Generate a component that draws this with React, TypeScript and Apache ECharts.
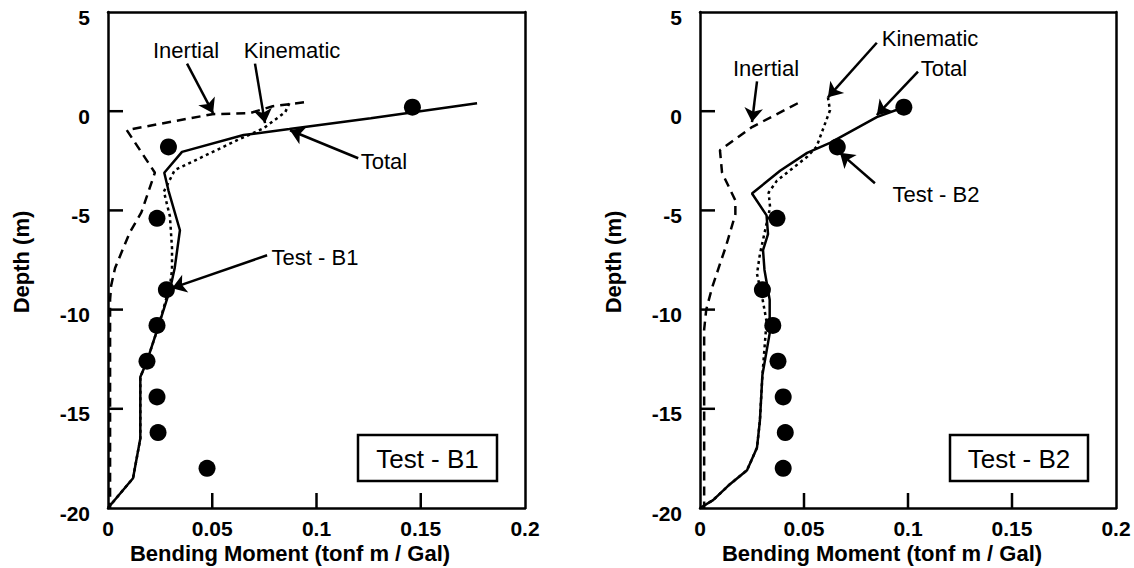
import React, { useEffect, useRef } from "react";
import * as echarts from "echarts";

// Axis ticks
const X_TICKS = [0, 0.05, 0.1, 0.15, 0.2];
const Y_TICKS = [-20, -15, -10, -5, 0, 5];

// ---- Test B1 (left) : [bending moment, depth]
const B1_INERTIAL = [
  [0.094, 0.45], [0.079, 0.25], [0.068, -0.1], [0.05, -0.15], [0.009, -0.95],
  [0.0225, -3.1], [0.016, -5.1], [0.0105, -6.1], [0.0034, -7.9], [0.0015, -8.8],
  [0.001, -9.5], [0.001, -20],
];
const B1_KINEMATIC = [
  [0.087, 0.4], [0.085, -0.05], [0.0745, -0.87], [0.062, -1.46], [0.032, -2.97],
  [0.0268, -4.05], [0.0297, -5.3], [0.0307, -6.9], [0.0307, -8.0], [0.0297, -8.8],
  [0.024, -10.9], [0.0187, -12.6], [0.0155, -13.4], [0.0155, -16.5], [0.012, -18.5], [0, -20],
];
const B1_TOTAL = [
  [0.177, 0.4], [0.126, -0.35], [0.087, -0.9], [0.065, -1.2], [0.0355, -2.05],
  [0.027, -3.1], [0.029, -4.0], [0.0345, -6.0], [0.032, -7.9], [0.0297, -9.0],
  [0.024, -10.9], [0.0187, -12.6], [0.0155, -13.4], [0.0155, -16.5], [0.012, -18.5], [0, -20],
];
const B1_TEST = [
  [0.146, 0.2], [0.029, -1.8], [0.0235, -5.4], [0.028, -9], [0.0235, -10.8],
  [0.0187, -12.6], [0.0235, -14.4], [0.024, -16.2], [0.0475, -18],
];
// arrows: [fromX, fromY, toX, toY] in data units
const B1_ARROWS = [
  [0.0379, 2.4, 0.0504, -0.1],
  [0.0705, 2.4, 0.0753, -0.6],
  [0.12, -2.37, 0.0873, -0.96],
  [0.0763, -7.26, 0.0307, -8.92],
];

// ---- Test B2 (right)
const B2_INERTIAL = [
  [0.047, 0.4], [0.025, -0.8], [0.0096, -1.97], [0.0106, -3.1], [0.017, -4.5],
  [0.017, -5.2], [0.0125, -6.8], [0.0096, -7.7], [0.0058, -8.9], [0.003, -10.0],
  [0.002, -11], [0.002, -20],
];
const B2_KINEMATIC = [
  [0.0615, 0.7], [0.0625, 0.05], [0.056, -1.8], [0.0515, -2.3], [0.037, -3.5],
  [0.033, -4.1], [0.0337, -4.85], [0.0288, -7.2], [0.0274, -8.2], [0.0303, -9.6],
  [0.032, -10.6], [0.030, -13.3], [0.0288, -15.6], [0.0274, -16.96], [0.0226, -18.1],
  [0.0144, -18.8], [0.0063, -19.6], [0, -20],
];
const B2_TOTAL = [
  [0.098, 0.2], [0.085, -0.3], [0.0625, -1.6], [0.0515, -2.1], [0.0385, -3.0],
  [0.025, -4.15], [0.032, -5.25], [0.0327, -6.2], [0.0303, -7.0], [0.031, -8.0],
  [0.0335, -9.5], [0.0335, -11.2], [0.030, -13.3], [0.0288, -15.6], [0.0274, -16.96],
  [0.0226, -18.1], [0.0144, -18.8], [0.0063, -19.6], [0, -20],
];
const B2_TEST = [
  [0.098, 0.2], [0.066, -1.8], [0.037, -5.4], [0.030, -9], [0.035, -10.8],
  [0.0375, -12.6], [0.040, -14.4], [0.041, -16.2], [0.040, -18],
];
const B2_ARROWS = [
  [0.0274, 1.5, 0.025, -0.55],
  [0.085, 3.45, 0.0615, 0.7],
  [0.1048, 2.0, 0.085, -0.2],
  [0.0841, -3.63, 0.0673, -2.1],
];

const FONT = '"Liberation Sans", Arial, Helvetica, sans-serif';
const TICK_LEN = 15;
const TICK_W = 2.5;

function App() {
  const ref = useRef<HTMLDivElement>(null);

  useEffect(() => {
    if (!ref.current) return;
    const chart = echarts.init(ref.current, undefined, { renderer: "svg" });

    const grids = [
      { left: 108, top: 12, width: 417, height: 496 },
      { left: 700, top: 12, width: 416, height: 496 },
    ];

    const line = { show: true, onZero: false, lineStyle: { color: "#000", width: 2.5 } };
    const labelBase = { color: "#000", fontFamily: FONT, fontWeight: "bold", fontSize: 21 };
    const xMin = X_TICKS[0];
    const xMax = X_TICKS[X_TICKS.length - 1];
    const yMin = Y_TICKS[0];
    const yMax = Y_TICKS[Y_TICKS.length - 1];

    const xAxis: any[] = [];
    const yAxis: any[] = [];
    grids.forEach((_, i) => {
      const xCommon = {
        type: "value",
        gridIndex: i,
        min: xMin,
        max: xMax,
        interval: X_TICKS[1] - X_TICKS[0],
        splitLine: { show: false },
        axisTick: { show: false },
      };
      const yCommon = {
        type: "value",
        gridIndex: i,
        min: yMin,
        max: yMax,
        interval: Y_TICKS[1] - Y_TICKS[0],
        splitLine: { show: false },
        axisTick: { show: false },
      };
      xAxis.push({
        ...xCommon,
        position: "bottom",
        axisLine: line,
        axisLabel: { ...labelBase, margin: 10, formatter: (v: number) => String(Number(v.toFixed(3))) },
      });
      xAxis.push({ ...xCommon, position: "top", axisLine: line, axisLabel: { show: false } });
      yAxis.push({
        ...yCommon,
        position: "left",
        axisLine: line,
        axisLabel: { ...labelBase, margin: 18, verticalAlign: "top", lineHeight: 10 },
      });
      yAxis.push({ ...yCommon, position: "right", axisLine: line, axisLabel: { show: false } });
    });

    const mkLine = (data: number[][], idx: number, type: any) => ({
      type: "line",
      xAxisIndex: idx * 2,
      yAxisIndex: idx * 2,
      data,
      symbol: "none",
      showSymbol: false,
      silent: true,
      z: 3,
      lineStyle: { color: "#000", width: 2.5, type, cap: "butt", opacity: 1 },
    });

    const mkTest = (data: number[][], idx: number, arrows: number[][]) => ({
      type: "scatter",
      xAxisIndex: idx * 2,
      yAxisIndex: idx * 2,
      data,
      symbol: "circle",
      symbolSize: 17,
      itemStyle: { color: "#000", opacity: 1 },
      silent: true,
      z: 4,
      markLine: {
        silent: true,
        symbol: ["none", "arrow"],
        symbolSize: 14,
        label: { show: false },
        lineStyle: { color: "#000", width: 2.5, type: "solid", opacity: 1 },
        itemStyle: { color: "#000" },
        emphasis: { disabled: true },
        data: arrows.map((a) => [{ coord: [a[0], a[1]] }, { coord: [a[2], a[3]] }]),
      },
    });

    const series = [
      mkLine(B1_INERTIAL, 0, [9, 6]),
      mkLine(B1_KINEMATIC, 0, [3, 3.5]),
      mkLine(B1_TOTAL, 0, "solid"),
      mkTest(B1_TEST, 0, B1_ARROWS),
      mkLine(B2_INERTIAL, 1, [9, 6]),
      mkLine(B2_KINEMATIC, 1, [3, 3.5]),
      mkLine(B2_TOTAL, 1, "solid"),
      mkTest(B2_TEST, 1, B2_ARROWS),
    ];

    const txt = (text: string, x: number, y: number, size: number, bold = false, rotation = 0) => ({
      type: "text",
      x,
      y,
      rotation,
      silent: true,
      z: 10,
      style: {
        text,
        fill: "#000",
        font: `${bold ? "bold " : ""}${size}px ${FONT}`,
        align: "center",
        verticalAlign: "middle",
      },
    });

    const box = (x: number, y: number, w: number, h: number, label: string) => [
      {
        type: "rect",
        shape: { x, y, width: w, height: h },
        style: { fill: "#fff", stroke: "#000", lineWidth: 2.5 },
        z: 9,
        silent: true,
      },
      txt(label, x + w / 2, y + h / 2 + 1, 26),
    ];

    // inward tick marks: linear axis mapping of each tick value inside its grid
    const tickEls: any[] = [];
    grids.forEach((g) => {
      X_TICKS.filter((v) => v > xMin && v < xMax).forEach((v) => {
        const px = g.left + ((v - xMin) / (xMax - xMin)) * g.width;
        const py = g.top + g.height;
        tickEls.push({
          type: "rect",
          silent: true,
          z: 50,
          shape: { x: px - TICK_W / 2, y: py - TICK_LEN, width: TICK_W, height: TICK_LEN },
          style: { fill: "#000" },
        });
      });
      Y_TICKS.filter((v) => v > yMin && v < yMax).forEach((v) => {
        const px = g.left;
        const py = g.top + ((yMax - v) / (yMax - yMin)) * g.height;
        tickEls.push({
          type: "rect",
          silent: true,
          z: 50,
          shape: { x: px, y: py - TICK_W / 2, width: TICK_LEN, height: TICK_W },
          style: { fill: "#000" },
        });
      });
    });

    const graphic: any[] = [
      txt("Depth (m)", 21, 262, 22, true, Math.PI / 2),
      txt("Depth (m)", 613, 262, 22, true, Math.PI / 2),
      txt("Bending Moment (tonf m / Gal)", 290, 553, 22, true),
      txt("Bending Moment (tonf m / Gal)", 882, 553, 22, true),
      txt("Inertial", 186, 50, 22),
      txt("Kinematic", 292, 50, 22),
      txt("Total", 384, 161, 22),
      txt("Test - B1", 315, 257, 22),
      txt("Inertial", 766, 68, 22),
      txt("Kinematic", 930, 38, 22),
      txt("Total", 944, 68, 22),
      txt("Test - B2", 936, 194, 22),
      ...box(358, 435, 139, 46, "Test - B1"),
      ...box(950, 435, 138, 46, "Test - B2"),
      ...tickEls,
    ];

    chart.setOption({
      animation: false,
      backgroundColor: "#fff",
      grid: grids,
      xAxis,
      yAxis,
      series,
      graphic,
    } as any);

    return () => chart.dispose();
  }, []);

  return (
    <div
      ref={ref}
      style={{ position: "fixed", left: 0, top: 0, width: 1134, height: 568, background: "#fff" }}
    />
  );
}

export default App;
